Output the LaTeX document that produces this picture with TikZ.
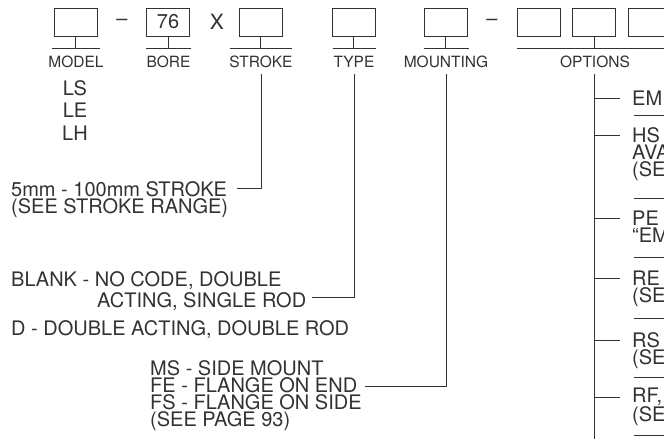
\documentclass[tikz,border=0pt]{standalone}
\usepackage{fontspec}
\setmainfont{TeX Gyre Heros}
\definecolor{ink}{RGB}{50,50,50}
\tikzset{
    codebox/.style={draw=ink, line width=1pt, minimum width=43pt, minimum height=28pt, inner sep=0pt, font=\fontsize{20}{20}\selectfont},
    fieldlabel/.style={anchor=base, inner xsep=0pt, inner ysep=7pt, text height=11pt, text depth=0pt, font=\fontsize{15.5}{15.5}\selectfont},
    desc/.style={anchor=base west, inner sep=0pt, align=left, font=\fontsize{20}{#1}\selectfont},
    desc/.default=17,
    wire/.style={draw=ink, line width=1pt},
}

\begin{document}
\begin{tikzpicture}[x=1pt,y=-1pt,every node/.style={text=ink}]
    \clip (0,0) rectangle (664,439);
    % code boxes
    \node[codebox] (bmodel) at (75.5,22) {};
    \node (dash1) at (122,22) {\fontsize{20}{20}\selectfont –};
    \node[codebox] (bbore) at (168,22) {76};
    \node (times) at (217,22) {\fontsize{21}{21}\selectfont X};
    \node[codebox] (bstroke) at (260.5,22) {};
    \node[codebox] (btype) at (353.5,22) {};
    \node[codebox] (bmount) at (445.5,22) {};
    \node (dash2) at (492,22) {\fontsize{20}{20}\selectfont –};
    \node[codebox] (bopt1) at (538.5,22) {};
    \node[codebox] (bopt2) at (594,22) {};
    \node[codebox] (bopt3) at (650,22) {};

    % field labels
    \node[fieldlabel] (lmodel) at (76,67) {MODEL};
    \node[fieldlabel] (lbore) at (168.5,67) {BORE};
    \node[fieldlabel] (lstroke) at (261,67) {STROKE};
    \node[fieldlabel] (ltype) at (354,67) {TYPE};
    \node[fieldlabel] (lmount) at (446,67) {MOUNTING};
    \node[fieldlabel] (lopt) at (595,67) {OPTIONS};

    \foreach \b/\l/\w in {bmodel/lmodel/24,bbore/lbore/22.5,bstroke/lstroke/31,btype/ltype/21.5,bmount/lmount/22.5,bopt2/lopt/78}{
        \draw[wire] (\b.south) -- (\b.south |- \l.north);
        \draw[wire] ([xshift=-\w pt]\l.north) -- ([xshift=\w pt]\l.north);
    }

    % left descriptions (placed at the baseline of their last line)
    \node[desc=22.5, anchor=base, align=center] (models) at (75,140) {LS\\LE\\LH};
    \node[desc] (strokedesc) at (11,213) {5mm - 100mm STROKE\\(SEE STROKE RANGE)};
    \node[desc=21] (typedesc) at (11,307) {BLANK - NO CODE, DOUBLE\\\hspace*{86pt}ACTING, SINGLE ROD};
    \node[desc] (typedesc2) at (11,335) {D - DOUBLE ACTING, DOUBLE ROD};
    \node[desc] (mountdesc) at (150,426) {MS - SIDE MOUNT\\FE - FLANGE ON END\\FS - FLANGE ON SIDE\\(SEE PAGE 93)};

    % connectors
    \coordinate (strokeend) at (237,188);
    \coordinate (typeend) at (312,297);
    \coordinate (mountend) at (365,386);
    \coordinate (optend) at (594,440);
    \draw[wire] (lstroke.south) |- (strokeend);
    \draw[wire] (ltype.south) |- (typeend);
    \draw[wire] (lmount.south) |- (mountend);
    \draw[wire] (lopt.south -| bopt2) -- (optend);

    % options list
    \foreach \n/\y/\z/\t in {oem/98/105/EM,ohs/135/176/{HS\\AVA\\(SEE},ope/218/242/{PE\\“EM},ore/278/302/{RE\\(SEE},ors/340/364/{RS\\(SEE},orf/397/421/{RF,\\(SEE}}{
        \node[desc] (\n) at (632,\z) {\t};
        \draw[wire] (594,\y) -- ++(26,0);
    }
    \foreach \y in {115,198,257,318,377,435}
        \draw[wire] (634,\y) -- (670,\y);
\end{tikzpicture}
\end{document}
